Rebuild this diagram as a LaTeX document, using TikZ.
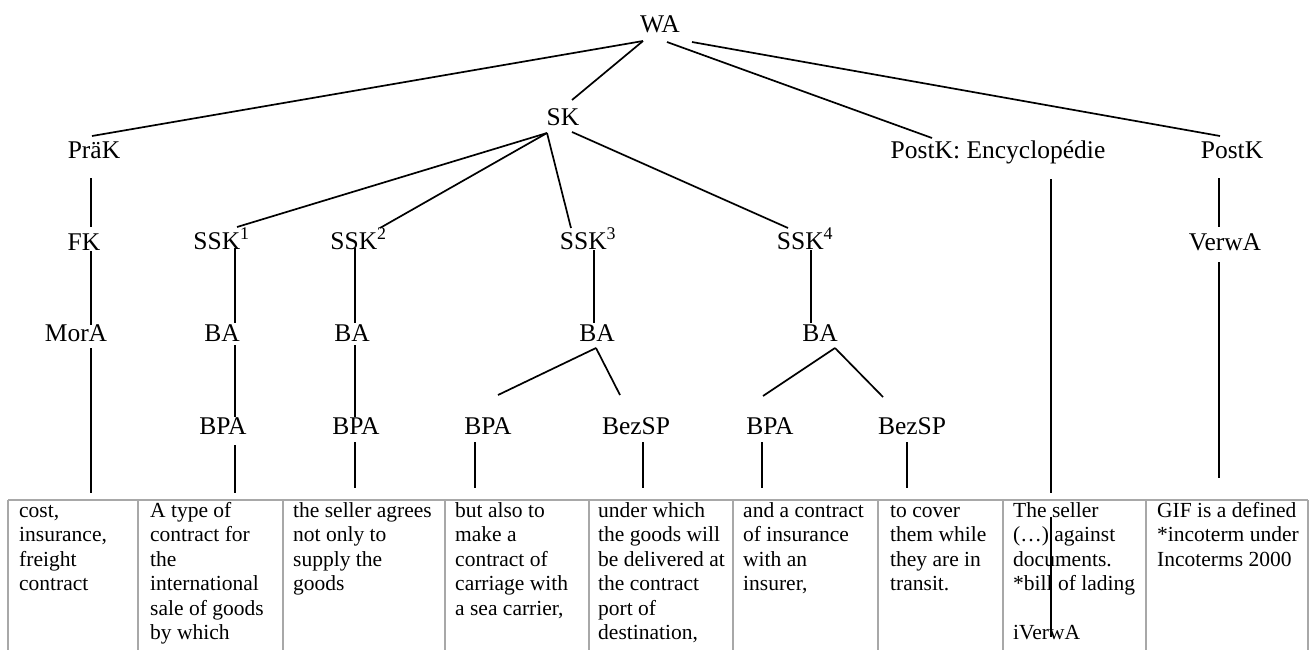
\documentclass[tikz,border=0pt]{standalone}
\usepackage{fontspec}
\setmainfont{Liberation Serif}
\definecolor{gridgray}{HTML}{A8A8A8}
\begin{document}
\begin{tikzpicture}[x=1pt,y=-1pt,
  lbl/.style={anchor=base,inner sep=0pt,font=\fontsize{25.5}{30}\selectfont},
  cell/.style={anchor=north west,inner sep=0pt,align=left,font=\fontsize{21.5}{24.5}\selectfont},
  conn/.style={line width=1.7pt,black},
  tabline/.style={line width=1.6pt,gridgray}]
\useasboundingbox (0,0) rectangle (1312,649);
\clip (0,0) rectangle (1312,649);
\fill[white] (0,0) rectangle (1312,649);

% table
\draw[tabline] (8,500) -- (1308,500);
\foreach \x in {8,138,283,445,589,733,878,1003,1146,1308}
  \draw[tabline] (\x,500) -- (\x,660);

% tree labels
\node[lbl] (WA) at (660,32.5) {WA};
\node[lbl] (SK) at (563,125.5) {SK};
\node[lbl] (PraeK) at (94,158.5) {PräK};
\node[lbl] (PostKE) at (998,158.5) {PostK: Encyclopédie};
\node[lbl] (PostK) at (1232,158.5) {PostK};
\node[lbl] (FK) at (84,250) {FK};
\node[lbl] (SSKa) at (221.5,249) {SSK\textsuperscript{1}};
\node[lbl] (SSKb) at (358.5,249) {SSK\textsuperscript{2}};
\node[lbl] (SSKc) at (588,249) {SSK\textsuperscript{3}};
\node[lbl] (SSKd) at (805,249) {SSK\textsuperscript{4}};
\node[lbl] (VerwA) at (1225,250) {VerwA};
\node[lbl] (MorA) at (76,341.5) {MorA};
\node[lbl] (BAa) at (222,341.5) {BA};
\node[lbl] (BAb) at (352,341.5) {BA};
\node[lbl] (BAc) at (597,341.5) {BA};
\node[lbl] (BAd) at (820,341.5) {BA};
\node[lbl] (BPAa) at (223,434) {BPA};
\node[lbl] (BPAb) at (356,434) {BPA};
\node[lbl] (BPAc) at (488,434) {BPA};
\node[lbl] (BezSPc) at (636,434) {BezSP};
\node[lbl] (BPAd) at (770,434) {BPA};
\node[lbl] (BezSPd) at (912,434) {BezSP};

% cells
\node[cell] (c1) at (19,500) {\strut cost,\\ insurance,\\ freight\\ contract};
\node[cell] (c2) at (150,500) {\strut A type of\\ contract for\\ the\\ international\\ sale of goods\\ by which};
\node[cell] (c3) at (293,500) {\strut the seller agrees\\ not only to\\ supply the\\ goods};
\node[cell] (c4) at (455,500) {\strut but also to\\ make a\\ contract of\\ carriage with\\ a sea carrier,};
\node[cell] (c5) at (598,500) {\strut under which\\ the goods will\\ be delivered at\\ the contract\\ port of\\ destination,};
\node[cell] (c6) at (743,500) {\strut and a contract\\ of insurance\\ with an\\ insurer,};
\node[cell] (c7) at (890,500) {\strut to cover\\ them while\\ they are in\\ transit.};
\node[cell] (c8) at (1013,500) {\strut The seller\\ (…) against\\ documents.\\ *bill of lading\\ \mbox{}\\ iVerwA};
\node[cell] (c9) at (1157,500) {\strut GIF is a defined\\ *incoterm under\\ Incoterms 2000};

% connector end points
\coordinate (waA) at (643,41);
\coordinate (waB) at (667,42);
\coordinate (waC) at (692,42);
\coordinate (prkT) at (92,136);
\coordinate (skT) at (572,100);
\coordinate (pkeT) at (932,138);
\coordinate (pkT) at (1220,136);
\coordinate (prkB) at (91,178);
\coordinate (fkT) at (91,227);
\coordinate (fkB) at (91,251);
\coordinate (moraT) at (91,325);
\coordinate (moraB) at (91,348);
\coordinate (c1T) at (91,493);
\coordinate (skBL) at (547,133);
\coordinate (skBR) at (572,132);
\coordinate (sskaT) at (237,227);
\coordinate (sskbT) at (380,228);
\coordinate (sskcT) at (571,228);
\coordinate (sskdT) at (788,228);
\coordinate (sskaB) at (235,248);
\coordinate (baaT) at (235,323);
\coordinate (baaB) at (235,345);
\coordinate (bpaaT) at (235,417);
\coordinate (bpaaB) at (235,445);
\coordinate (c2T) at (235,493);
\coordinate (sskbB) at (355,248);
\coordinate (babT) at (355,323);
\coordinate (babB) at (355,345);
\coordinate (bpabT) at (355,417);
\coordinate (bpabB) at (355,442);
\coordinate (c3T) at (355,488);
\coordinate (sskcB) at (594,250);
\coordinate (bacT) at (594,323);
\coordinate (bacB) at (596,348);
\coordinate (bpacT) at (498,395);
\coordinate (bezcT) at (620,395);
\coordinate (bpacB) at (475,442);
\coordinate (c4T) at (475,488);
\coordinate (bezcB) at (643,442);
\coordinate (c5T) at (643,488);
\coordinate (sskdB) at (811,250);
\coordinate (badT) at (811,323);
\coordinate (badB) at (835,348);
\coordinate (bpadT) at (763,396);
\coordinate (bezdT) at (883,397);
\coordinate (bpadB) at (762,442);
\coordinate (c6T) at (762,488);
\coordinate (bezdB) at (907,442);
\coordinate (c7T) at (907,488);
\coordinate (pkeB) at (1051,179);
\coordinate (c8T) at (1051,493);
\coordinate (c8a) at (1051,517);
\coordinate (c8b) at (1051,637);
\coordinate (pkB) at (1219,178);
\coordinate (verwT) at (1219,227);
\coordinate (verwB) at (1219,262);
\coordinate (c9T) at (1219,478);

% connectors
\draw[conn] (waA) -- (prkT);
\draw[conn] (waA) -- (skT);
\draw[conn] (waB) -- (pkeT);
\draw[conn] (waC) -- (pkT);
\draw[conn] (prkB) -- (fkT);
\draw[conn] (fkB) -- (moraT);
\draw[conn] (moraB) -- (c1T);
\draw[conn] (skBL) -- (sskaT);
\draw[conn] (skBL) -- (sskbT);
\draw[conn] (skBL) -- (sskcT);
\draw[conn] (skBR) -- (sskdT);
\draw[conn] (sskaB) -- (baaT);
\draw[conn] (baaB) -- (bpaaT);
\draw[conn] (bpaaB) -- (c2T);
\draw[conn] (sskbB) -- (babT);
\draw[conn] (babB) -- (bpabT);
\draw[conn] (bpabB) -- (c3T);
\draw[conn] (sskcB) -- (bacT);
\draw[conn] (bacB) -- (bpacT);
\draw[conn] (bacB) -- (bezcT);
\draw[conn] (bpacB) -- (c4T);
\draw[conn] (bezcB) -- (c5T);
\draw[conn] (sskdB) -- (badT);
\draw[conn] (badB) -- (bpadT);
\draw[conn] (badB) -- (bezdT);
\draw[conn] (bpadB) -- (c6T);
\draw[conn] (bezdB) -- (c7T);
\draw[conn] (pkeB) -- (c8T);
\draw[conn] (c8a) -- (c8b);
\draw[conn] (pkB) -- (verwT);
\draw[conn] (verwB) -- (c9T);
\end{tikzpicture}
\end{document}
